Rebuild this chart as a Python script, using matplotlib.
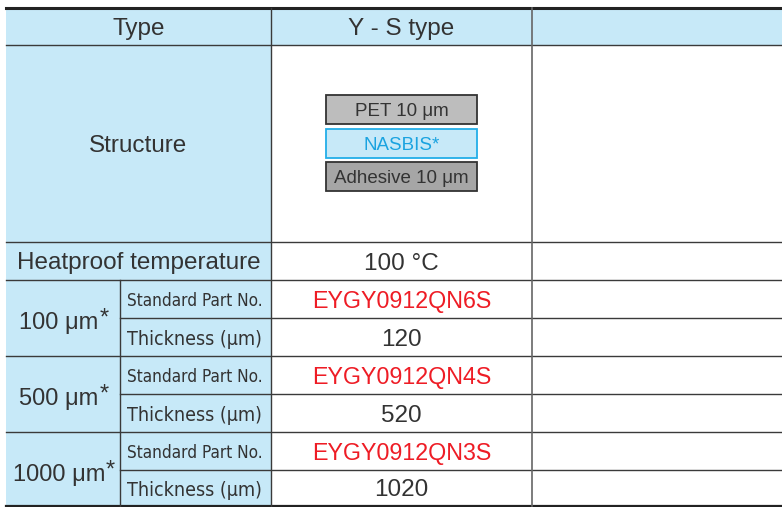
import matplotlib.pyplot as plt
from matplotlib.patches import Rectangle

# table content
header = ['Type', 'Y - S type', '']
structure_layers = ['PET 10 μm', 'NASBIS*', 'Adhesive 10 μm']
heatproof_label = 'Heatproof temperature'
heatproof_value = '100 °C'
groups = ['100 μm', '500 μm', '1000 μm']
sub_labels = ['Standard Part No.', 'Thickness (μm)']
part_numbers = ['EYGY0912QN6S', 'EYGY0912QN4S', 'EYGY0912QN3S']
thickness = ['120', '520', '1020']

blue = '#c7e9f8'
line_c = '#3a3a3a'
txt_c = '#333333'
red = '#ee1c25'
cyan = '#1aa3e0'

main_font = ['Liberation Sans', 'DejaVu Sans']

fig = plt.figure(figsize=(7.82, 5.07), dpi=100)
ax = fig.add_axes([0, 0, 1, 1])
ax.set_xlim(0, 782)
ax.set_ylim(507, 0)
ax.axis('off')

# grid geometry (pixels)
xs = [6, 120, 271, 532, 782]
ys = [8, 45, 242, 280, 318, 356, 394, 432, 470, 506]

# blue backgrounds
ax.add_patch(Rectangle((xs[0], ys[0]), xs[4] - xs[0], ys[1] - ys[0], color=blue, lw=0))
ax.add_patch(Rectangle((xs[0], ys[1]), xs[2] - xs[0], ys[-1] - ys[1], color=blue, lw=0))

# horizontal lines
for i, y in enumerate(ys):
    if i in (4, 6, 8):
        ax.plot([xs[1], xs[4]], [y, y], color=line_c, lw=1.0)
    elif i == 0:
        ax.plot([xs[0], xs[4]], [y, y], color='#222222', lw=2.2)
    elif i == len(ys) - 1:
        ax.plot([xs[0], xs[4]], [y, y], color='#222222', lw=1.6)
    else:
        ax.plot([xs[0], xs[4]], [y, y], color=line_c, lw=1.0)

# vertical lines
ax.plot([xs[2], xs[2]], [ys[0], ys[-1]], color=line_c, lw=1.0)
ax.plot([xs[3], xs[3]], [ys[0], ys[-1]], color='#666666', lw=1.2)
ax.plot([xs[1], xs[1]], [ys[3], ys[-1]], color=line_c, lw=1.0)

fs = 17.5
dy = 2.5

def cx(a, b):
    return (a + b) / 2

# header
ax.text(cx(xs[0], xs[2]), cx(ys[0], ys[1]) + dy, header[0], ha='center', va='center',
        fontsize=fs, color=txt_c, family=main_font)
ax.text(cx(xs[2], xs[3]), cx(ys[0], ys[1]) + dy, header[1], ha='center', va='center',
        fontsize=fs, color=txt_c, family=main_font)

# structure row
ax.text(cx(xs[0], xs[2]), 144 + dy, 'Structure', ha='center', va='center',
        fontsize=fs, color=txt_c, family=main_font)
box_fill = ['#bdbdbd', '#c7e9f8', '#a6a6a6']
box_edge = ['#333333', '#22aee8', '#333333']
box_txt = [txt_c, cyan, txt_c]
box_y = [95, 129, 162]
for lab, fc, ec, tc, by in zip(structure_layers, box_fill, box_edge, box_txt, box_y):
    ax.add_patch(Rectangle((326, by), 151, 29, facecolor=fc, edgecolor=ec, lw=1.3))
    ax.text(401.5, by + 16.5, lab, ha='center', va='center', fontsize=13.5,
            color=tc, family=main_font)

# heatproof row
ax.text(cx(xs[0], xs[2]), cx(ys[2], ys[3]) + dy, heatproof_label, ha='center', va='center',
        fontsize=fs, color=txt_c, family=main_font)
ax.text(cx(xs[2], xs[3]), cx(ys[2], ys[3]) + dy, heatproof_value, ha='center', va='center',
        fontsize=fs, color=txt_c, family=main_font)

# groups
sub_sizes = [12.3, 14]
for g, (grp, pn, th) in enumerate(zip(groups, part_numbers, thickness)):
    y0 = ys[3 + 2 * g]
    y1 = ys[4 + 2 * g]
    y2 = ys[5 + 2 * g]
    t = ax.text(cx(xs[0], xs[1]) - 4, y1 + 5, grp, ha='center', va='center',
                fontsize=17, color=txt_c, family=main_font)
    ax.annotate('*', xy=(1, 1), xycoords=t, ha='left', va='top',
                xytext=(0.5, 3), textcoords='offset points',
                fontsize=17, color=txt_c, family=main_font)
    for lab, sz, ya, yb in ((sub_labels[0], sub_sizes[0], y0, y1),
                            (sub_labels[1], sub_sizes[1], y1, y2)):
        ax.text(xs[1] + 7, cx(ya, yb) + dy, lab, ha='left', va='center',
                fontsize=sz, color=txt_c, family='DejaVu Sans',
                fontstretch='condensed')
    ax.text(cx(xs[2], xs[3]), cx(y0, y1) + dy, pn, ha='center', va='center',
            fontsize=16.75, color=red, family=main_font)
    ax.text(cx(xs[2], xs[3]), cx(y1, y2) + dy, th, ha='center', va='center',
            fontsize=fs, color=txt_c, family=main_font)

fig.savefig('out.png', dpi=100)
